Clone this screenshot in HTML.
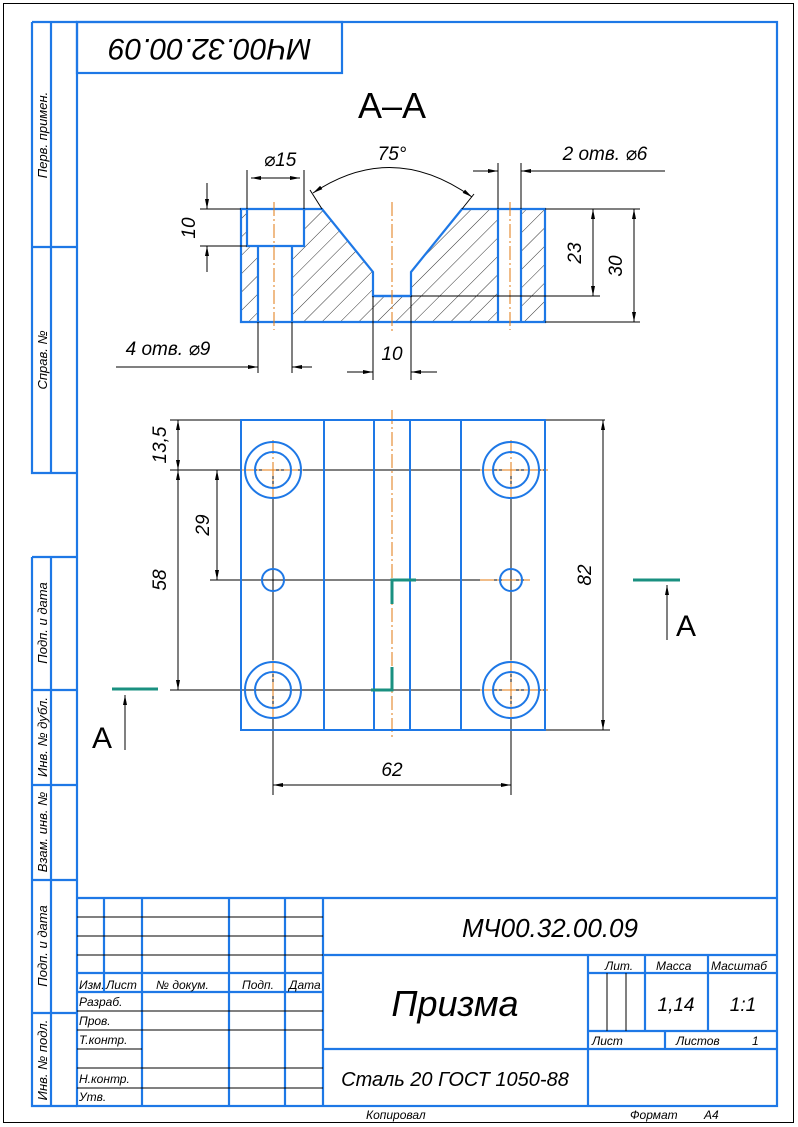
<!DOCTYPE html>
<html><head><meta charset="utf-8"><style>
html,body{margin:0;padding:0;background:#fff}
svg{display:block}
text{font-family:"Liberation Sans","DejaVu Sans",sans-serif;font-style:italic;fill:#000}
</style></head><body>
<svg width="798" height="1127" viewBox="0 0 798 1127" xmlns="http://www.w3.org/2000/svg">
<defs>
<pattern id="h" patternUnits="userSpaceOnUse" width="13" height="13" patternTransform="rotate(45)">
<line x1="0" y1="0" x2="0" y2="13" stroke="#000" stroke-width="0.8"/>
</pattern>
<marker id="a" viewBox="0 0 10 6" refX="10" refY="3" markerWidth="10" markerHeight="6" orient="auto-start-reverse" markerUnits="userSpaceOnUse">
<path d="M0,1 L10,3 L0,5 Z" fill="#000"/>
</marker>
</defs>
<rect x="3.5" y="3.5" width="790" height="1119" fill="none" stroke="#000" stroke-width="1"/>
<g fill="none" stroke="#1e78e6" stroke-width="2.2">
<rect x="77" y="22" width="700" height="1084"/>
<rect x="77" y="22" width="265" height="51"/>
<path d="M32,22V473H77M51,22V473M32,247H77M32,22H77"/>
<path d="M32,557V1106H77M51,557V1106M32,557H77M32,690H77M32,785H77M32,880H77M32,1013H77"/>
<path d="M77,898H777M104,898V992M142,898V1106M229,898V1106M285,898V1106M323,898V1106M77,973H323M77,992H323M323,955H777M323,1049H777M588,955V1106M645,955V1031M708,955V1031M588,973H777M588,1031H777M665,1031V1049"/>
</g>
<g stroke="#000" stroke-width="1" fill="none">
<path d="M77,917H323M77,936H323M77,955H323M77,1011H323M77,1030H323M77,1068H323M77,1088H323M77,1049H142M607,973V1031M626,973V1031"/>
</g>
<text transform="translate(210,47) rotate(180)" font-size="30" text-anchor="middle" dominant-baseline="middle">МЧ00.32.00.09</text>
<g font-size="13">
<text transform="translate(47,135) rotate(-90)" text-anchor="middle">Перв. примен.</text>
<text transform="translate(47,360) rotate(-90)" text-anchor="middle">Справ. №</text>
<text transform="translate(47,623) rotate(-90)" text-anchor="middle">Подп. и дата</text>
<text transform="translate(47,737) rotate(-90)" text-anchor="middle">Инв. № дубл.</text>
<text transform="translate(47,832) rotate(-90)" text-anchor="middle">Взам. инв. №</text>
<text transform="translate(47,946) rotate(-90)" text-anchor="middle">Подп. и дата</text>
<text transform="translate(47,1060) rotate(-90)" text-anchor="middle">Инв. № подл.</text>
</g>
<g font-size="12">
<text x="79" y="989">Изм.</text><text x="106" y="989">Лист</text><text x="156" y="989">№ докум.</text><text x="242" y="989">Подп.</text><text x="289" y="989">Дата</text>
<text x="79" y="1006">Разраб.</text><text x="79" y="1025">Пров.</text><text x="79" y="1044">Т.контр.</text><text x="79" y="1083">Н.контр.</text><text x="79" y="1101">Утв.</text>
<text x="605" y="970">Лит.</text><text x="656" y="970">Масса</text><text x="711" y="970">Масштаб</text>
<text x="592" y="1045">Лист</text><text x="676" y="1045">Листов</text><text x="752" y="1045">1</text>
<text x="366" y="1119">Копировал</text><text x="630" y="1119">Формат</text><text x="704" y="1119">А4</text>
</g>
<text x="550" y="937" font-size="26" text-anchor="middle">МЧ00.32.00.09</text>
<text x="455" y="1016" font-size="36" text-anchor="middle">Призма</text>
<text x="676" y="1011" font-size="19" text-anchor="middle">1,14</text>
<text x="743" y="1011" font-size="19" text-anchor="middle">1:1</text>
<text x="455" y="1086" font-size="20" text-anchor="middle">Сталь 20  ГОСТ 1050-88</text>
<text x="392" y="118" font-size="36" text-anchor="middle" style="font-style:normal">А–А</text>

<path d="M241,209H322L373,272V296H411V272L462,209H545V322H241Z M247,209H304V246H292V322H258V246H247Z M498,209H521V322H498Z" fill="url(#h)" fill-rule="evenodd"/>
<g fill="none" stroke="#1e78e6" stroke-width="2.2">
<path d="M241,209H322L373,272V296H411V272L462,209H545V322H241Z"/>
<path d="M247,209V246H304V209M258,246V322M292,246V322M498,209V322M521,209V322M373,296H411"/>
</g>
<g stroke="#e07a10" stroke-width="1" stroke-dasharray="14,3,2,3">
<path d="M274,202V330M392,202V333M510,202V330"/>
</g>
<g stroke="#000" stroke-width="1" fill="none">
<path d="M247,170V209M304,170V209M200,209H241M200,246H247M498,163V209M521,163V209M545,209H640M411,296H600M545,322H640M258,322V373M292,322V373M373,296V380M411,296V380"/>
<path d="M251,178H300" marker-start="url(#a)" marker-end="url(#a)"/>
<path d="M207,183V209" marker-end="url(#a)"/><path d="M207,272V246" marker-end="url(#a)"/>
<path d="M593,209V296" marker-start="url(#a)" marker-end="url(#a)"/>
<path d="M634,209V322" marker-start="url(#a)" marker-end="url(#a)"/>
<path d="M116,367H258" marker-end="url(#a)"/><path d="M312,367H292" marker-end="url(#a)"/>
<path d="M347,372H373" marker-end="url(#a)"/><path d="M437,372H411" marker-end="url(#a)"/>
<path d="M473,171H498" marker-end="url(#a)"/><path d="M665,171H521" marker-end="url(#a)"/>
<path d="M313,193Q392,140 472,197" marker-start="url(#a)" marker-end="url(#a)"/>
<path d="M310,190L322,209M474,194L462,209"/>
</g>
<g font-size="19">
<text x="280" y="166" text-anchor="middle">⌀15</text>
<text x="392" y="160" text-anchor="middle">75°</text>
<text x="605" y="160" text-anchor="middle">2 отв. ⌀6</text>
<text x="168" y="355" text-anchor="middle">4 отв. ⌀9</text>
<text x="392" y="360" text-anchor="middle">10</text>
<text transform="translate(195,228) rotate(-90)" text-anchor="middle">10</text>
<text transform="translate(581,253) rotate(-90)" text-anchor="middle">23</text>
<text transform="translate(622,266) rotate(-90)" text-anchor="middle">30</text>
</g>

<g stroke="#000" stroke-width="1" fill="none">
<path d="M170,420H605M170,470H545M210,580H530M170,690H545M545,730H610M273,470V795M511,470V795"/>
<path d="M178,420V470" marker-start="url(#a)" marker-end="url(#a)"/>
<path d="M178,470V690" marker-start="url(#a)" marker-end="url(#a)"/>
<path d="M217,470V580" marker-start="url(#a)" marker-end="url(#a)"/>
<path d="M603,420V730" marker-start="url(#a)" marker-end="url(#a)"/>
<path d="M273,785H511" marker-start="url(#a)" marker-end="url(#a)"/>
<path d="M125,750V695" marker-end="url(#a)"/>
<path d="M667,640V585" marker-end="url(#a)"/>
</g>
<g stroke="#e07a10" stroke-width="1" stroke-dasharray="14,3,2,3">
<path d="M392,410V740M273,440V500M511,440V500M273,660V720M511,660V720M240,470H305M480,470H548M480,690H548M480,580H530"/>
</g>
<g fill="none" stroke="#1e78e6" stroke-width="2">
<rect x="241" y="420" width="304" height="310"/>
<path d="M324,420V730M374,420V730M410,420V730M461,420V730"/>
<circle cx="273" cy="470" r="28"/><circle cx="273" cy="470" r="18"/>
<circle cx="511" cy="470" r="28"/><circle cx="511" cy="470" r="18"/>
<circle cx="273" cy="690" r="28"/><circle cx="273" cy="690" r="18"/>
<circle cx="511" cy="690" r="28"/><circle cx="511" cy="690" r="18"/>
<circle cx="273" cy="580" r="11"/><circle cx="511" cy="580" r="11"/>
</g>
<g stroke="#1a9080" stroke-width="3" fill="none">
<path d="M112,689H158M633,580H680M416,580H392V604M392,667V690H371"/>
</g>
<g font-size="19">
<text transform="translate(166,445) rotate(-90)" text-anchor="middle">13,5</text>
<text transform="translate(209,525) rotate(-90)" text-anchor="middle">29</text>
<text transform="translate(166,580) rotate(-90)" text-anchor="middle">58</text>
<text transform="translate(591,575) rotate(-90)" text-anchor="middle">82</text>
<text x="392" y="776" text-anchor="middle">62</text>
</g>
<text x="102" y="748" font-size="30" text-anchor="middle" style="font-style:normal">А</text>
<text x="686" y="636" font-size="30" text-anchor="middle" style="font-style:normal">А</text>
</svg>
</body></html>
